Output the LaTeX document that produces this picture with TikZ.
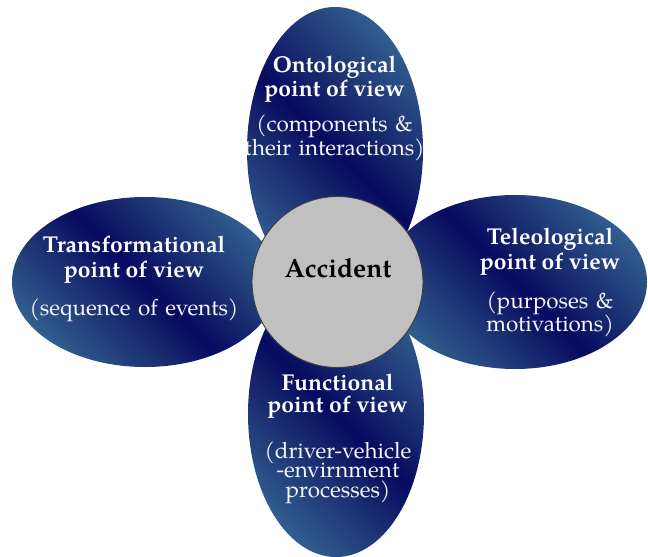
\documentclass[tikz,border=0pt]{standalone}
\usepackage{fontspec}
\setmainfont{TeX Gyre Pagella}
\definecolor{plight}{RGB}{48,92,142}
\definecolor{pmid}{RGB}{26,44,112}
\definecolor{pdark}{RGB}{6,10,96}
\definecolor{cgray}{RGB}{192,192,192}
\definecolor{cedge}{RGB}{60,60,60}
\pgfdeclarehorizontalshading{petalshade}{100bp}{color(0bp)=(plight); color(25bp)=(plight); color(40bp)=(pmid); color(50bp)=(pdark); color(60bp)=(pmid); color(75bp)=(plight); color(100bp)=(plight)}
\tikzset{
  petal/.style={shading=petalshade, shading angle=45},
  hub/.style={circle, fill=cgray, draw=cedge, line width=0.9bp, minimum size=171bp, inner sep=0pt},
  ttl/.style={font=\bfseries\fontsize{23}{26}\selectfont, text=white, anchor=base, inner sep=0pt},
  sub/.style={font=\fontsize{22.5}{20}\selectfont, text=white!94!gray, anchor=base, inner sep=0pt, text width=230bp, align=center},
}
\begin{document}
\begin{tikzpicture}[x=1bp, y=-1bp]
\useasboundingbox (0,0) rectangle (648,557);
% petals
\path[petal] (515,282) ellipse [x radius=132, y radius=87];
\path[petal] (145,282) ellipse [x radius=133, y radius=85];
\path[petal] (335,150) ellipse [x radius=88, y radius=143];
\path[petal] (336,414) ellipse [x radius=88, y radius=143];
% hub
\node[hub] (acc) at (337.5,282) {};
\node[font=\bfseries\fontsize{26.5}{28}\selectfont, anchor=base, inner sep=0pt] (acct) at (338,277) {Accident};
% top
\node[ttl] (on1) at (334.5,73) {Ontological};
\node[ttl] (on2) at (334.5,97) {point of view};
\node[sub] (on3) at (334.5,132) {(components \&\\their interactions)};
% left
\node[ttl] (tr1) at (134,253) {Transformational};
\node[ttl] (tr2) at (134,277) {point of view};
\node[sub] (tr3) at (134,315) {(sequence of events)};
% right
\node[ttl] (te1) at (550,245) {Teleological};
\node[ttl] (te2) at (550,269) {point of view};
\node[sub] (te3) at (550,308) {(purposes \&\\motivations)};
% bottom
\node[ttl] (fu1) at (337.5,390) {Functional};
\node[ttl] (fu2) at (337.5,412) {point of view};
\node[sub] (fu3) at (338,458) {(driver-vehicle\\-envirnment\\processes)};
\end{tikzpicture}
\end{document}
